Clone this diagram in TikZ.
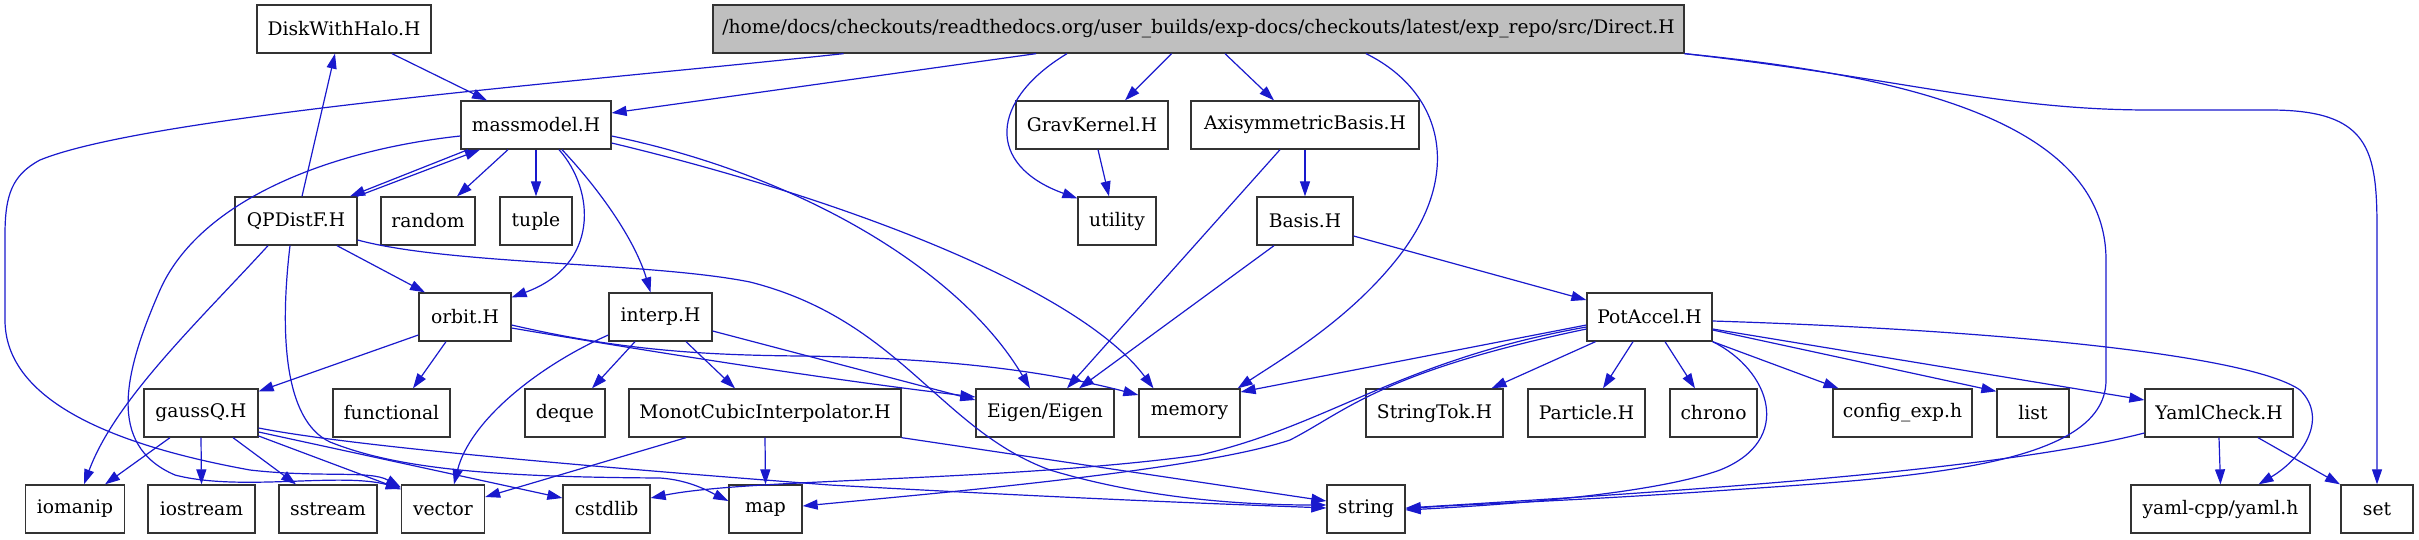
\documentclass[tikz,border=0pt]{standalone}
\usepackage{fontspec}
\setmainfont{DejaVu Serif}
\usetikzlibrary{arrows.meta}
\definecolor{edgeblue}{RGB}{25,25,205}
\definecolor{rootgray}{RGB}{191,191,191}
\begin{document}
\begin{tikzpicture}[x=1pt,y=-1pt,
 box/.style={draw=black!80, line width=1.3pt, minimum height=48pt, inner sep=0pt, font=\fontsize{18.7}{22}\selectfont, fill=white},
 dep/.style={draw=edgeblue, line width=1.2pt, -{Triangle[length=15pt,width=10pt]}},
]
\path[use as bounding box] (0,0) rectangle (2419,539);
% row 0
\node[box, minimum width=971pt, fill=rootgray] (D) at (1198.5,29) {/home/docs/checkouts/readthedocs.org/user\_builds/exp-docs/checkouts/latest/exp\_repo/src/Direct.H};
\node[box, minimum width=174pt] (disk) at (344,29) {DiskWithHalo.H};
% row 1
\node[box, minimum width=150pt] (mm) at (536,125) {massmodel.H};
\node[box, minimum width=152pt] (grav) at (1092,125) {GravKernel.H};
\node[box, minimum width=228pt] (axis) at (1305,125) {AxisymmetricBasis.H};
% row 2
\node[box, minimum width=122pt] (qp) at (296,221) {QPDistF.H};
\node[box, minimum width=94pt] (rnd) at (428,221) {random};
\node[box, minimum width=72pt] (tup) at (536,221) {tuple};
\node[box, minimum width=78pt] (util) at (1117,221) {utility};
\node[box, minimum width=96pt] (basis) at (1305,221) {Basis.H};
% row 3
\node[box, minimum width=92pt] (orbit) at (465,317) {orbit.H};
\node[box, minimum width=103pt] (interp) at (660.5,317) {interp.H};
\node[box, minimum width=125pt] (pot) at (1649.5,317) {PotAccel.H};
% row 4
\node[box, minimum width=114pt] (gauss) at (201,413) {gaussQ.H};
\node[box, minimum width=117pt] (func) at (391.5,413) {functional};
\node[box, minimum width=80pt] (deque) at (565,413) {deque};
\node[box, minimum width=272pt] (monot) at (765,413) {MonotCubicInterpolator.H};
\node[box, minimum width=138pt] (eigen) at (1045,413) {Eigen/Eigen};
\node[box, minimum width=101pt] (mem) at (1189.5,413) {memory};
\node[box, minimum width=137pt] (stok) at (1434.5,413) {StringTok.H};
\node[box, minimum width=117pt] (part) at (1586.5,413) {Particle.H};
\node[box, minimum width=87pt] (chrono) at (1713.5,413) {chrono};
\node[box, minimum width=139pt] (cfg) at (1902.5,413) {config\_exp.h};
\node[box, minimum width=72pt] (list) at (2033,413) {list};
\node[box, minimum width=148pt] (yamlc) at (2219,413) {YamlCheck.H};
% row 5
\node[box, minimum width=99pt] (iom) at (75,509) {iomanip};
\node[box, minimum width=107pt] (iostr) at (201.5,509) {iostream};
\node[box, minimum width=98pt] (sstr) at (328,509) {sstream};
\node[box, minimum width=83pt] (vec) at (443,509) {vector};
\node[box, minimum width=87pt] (cstd) at (606.5,509) {cstdlib};
\node[box, minimum width=73pt] (map) at (765.5,509) {map};
\node[box, minimum width=78pt] (str) at (1366,509) {string};
\node[box, minimum width=179pt] (yaml) at (2220.5,509) {yaml-cpp/yaml.h};
\node[box, minimum width=72pt] (set) at (2377,509) {set};

% Direct.H
\draw[dep] ([xshift=-162.5]D.south) -- ([yshift=12]mm.east);
\draw[dep] ([xshift=-355]D.south) .. controls (600,80) and (150,115) .. (40,160) .. controls (12,175) and (5,195) .. (5,235) -- (5,320) .. controls (5,410) and (140,450) .. (250,470) .. controls (320,478) and (370,470) .. ([yshift=-3]vec.north west);
\draw[dep] ([xshift=-131.5]D.south) .. controls (990,100) and (985,165) .. ([yshift=-2]util.north west);
\draw[dep] ([xshift=-27]D.south) -- ([xshift=33]grav.north);
\draw[dep] ([xshift=26.5]D.south) -- ([xshift=-31]axis.north);
\draw[dep] ([xshift=167.5]D.south) .. controls (1440,90) and (1465,170) .. (1400,255) .. controls (1350,320) and (1280,360) .. ([xshift=-3]mem.north east);
\draw[dep] (D.south east) .. controls (1900,75) and (2106,120) .. (2106,260) -- (2106,380) .. controls (2106,470) and (1900,478) .. (1700,492) .. controls (1550,502) and (1450,505) .. (str.east);
\draw[dep] (D.south east) .. controls (1900,78) and (2000,110) .. (2150,110) -- (2270,110) .. controls (2370,110) and (2377,150) .. (2377,230) -- (set.north);
% DiskWithHalo
\draw[dep] ([xshift=48]disk.south) -- ([xshift=-49]mm.north);
% massmodel
\draw[dep] ([xshift=-68]mm.south) -- ([xshift=54]qp.north);
\draw[dep] ([xshift=-28]mm.south) -- ([xshift=29]rnd.north);
\draw[dep] (mm.south) -- (tup.north);
\draw[dep] ([xshift=23]mm.south) .. controls (595,190) and (600,265) .. ([yshift=-5]orbit.north east);
\draw[dep] ([xshift=26]mm.south) .. controls (600,190) and (635,240) .. ([xshift=-10]interp.north);
\draw[dep] ([yshift=-11]mm.east) .. controls (800,175) and (960,270) .. ([xshift=-15]eigen.north);
\draw[dep] ([yshift=-18]mm.east) .. controls (850,200) and (1080,290) .. ([xshift=-36]mem.north);
\draw[dep] ([yshift=-11]mm.west) .. controls (330,150) and (200,200) .. (160,290) .. controls (125,370) and (105,445) .. (175,475) .. controls (240,492) and (340,472) .. ([yshift=-4]vec.north west);
% QPDistF
\draw[dep] ([xshift=6]qp.north) -- ([xshift=-9]disk.south);
\draw[dep] ([xshift=61]qp.north) -- ([xshift=-56]mm.south);
\draw[dep] ([xshift=41]qp.south) -- ([xshift=-40]orbit.north);
\draw[dep] ([xshift=-28]qp.south) .. controls (200,320) and (115,400) .. ([xshift=9]iom.north);
\draw[dep] ([xshift=-6]qp.south) .. controls (280,330) and (283,420) .. (330,442) .. controls (400,470) and (500,477) .. (660,478) .. controls (690,480) and (710,492) .. ([yshift=8]map.west);
\draw[dep] ([yshift=-19]qp.east) .. controls (450,265) and (650,262) .. (750,282) .. controls (900,320) and (940,430) .. (1050,470) .. controls (1150,500) and (1250,505) .. ([yshift=4]str.west);
% orbit
\draw[dep] ([yshift=-18]orbit.west) -- ([yshift=-3]gauss.north east);
\draw[dep] ([xshift=-19]orbit.south) -- ([xshift=21.5]func.north);
\draw[dep] ([yshift=-11]orbit.east) .. controls (700,360) and (850,382) .. ([yshift=16]eigen.west);
\draw[dep] ([yshift=-8]orbit.east) .. controls (620,350) and (700,355) .. (800,356) .. controls (950,358) and (1050,372) .. ([yshift=18]mem.west);
% interp
\draw[dep] ([yshift=-14]interp.east) -- ([yshift=13]eigen.west);
\draw[dep] ([yshift=-18]interp.west) .. controls (540,365) and (470,420) .. ([xshift=11]vec.north);
\draw[dep] ([xshift=-25.5]interp.south) -- ([xshift=27]deque.north);
\draw[dep] ([xshift=25.5]interp.south) -- ([xshift=-30]monot.north);
% gaussQ
\draw[dep] ([xshift=-31]gauss.south) -- ([xshift=30]iom.north);
\draw[dep] (gauss.south) -- (iostr.north);
\draw[dep] ([xshift=32]gauss.south) -- ([xshift=-32]sstr.north);
\draw[dep] ([yshift=-23]gauss.east) -- ([yshift=-5]vec.north west);
\draw[dep] ([yshift=-19]gauss.east) -- ([yshift=11]cstd.west);
\draw[dep] ([yshift=-15]gauss.east) .. controls (330,442) and (500,460) .. (830,485) .. controls (1100,500) and (1250,505) .. ([yshift=1]str.west);
% MonotCubicInterpolator
\draw[dep] ([xshift=-79]monot.south) -- ([yshift=12]vec.east);
\draw[dep] (monot.south) -- (map.north);
\draw[dep] (monot.south east) -- ([yshift=8]str.west);
% AxisymmetricBasis, GravKernel, Basis
\draw[dep] (axis.south) -- (basis.north);
\draw[dep] ([xshift=-25]axis.south) -- ([xshift=22]eigen.north);
\draw[dep] ([xshift=6]grav.south) -- ([xshift=-8]util.north);
\draw[dep] ([xshift=-31]basis.south) -- ([xshift=34]eigen.north);
\draw[dep] ([yshift=-15]basis.east) -- ([yshift=17]pot.west);
% PotAccel
\draw[dep] ([yshift=-8]pot.west) -- ([yshift=21]mem.east);
\draw[dep] ([yshift=-10]pot.west) .. controls (1400,360) and (1330,425) .. (1200,455) .. controls (1000,482) and (750,478) .. ([yshift=11]cstd.east);
\draw[dep] ([yshift=-12]pot.west) .. controls (1380,372) and (1345,412) .. (1290,440) .. controls (1200,470) and (950,492) .. ([yshift=3]map.east);
\draw[dep] ([xshift=-54]pot.south) -- ([xshift=57]stok.north);
\draw[dep] ([xshift=-16.5]pot.south) -- ([xshift=16.5]part.north);
\draw[dep] ([xshift=15.5]pot.south) -- ([xshift=-18.5]chrono.north);
\draw[dep] (pot.south east) -- ([xshift=-64]cfg.north);
\draw[dep] ([yshift=-13]pot.east) -- ([yshift=-3]list.north west);
\draw[dep] ([yshift=-12]pot.east) -- ([yshift=13]yamlc.west);
\draw[dep] ([yshift=-4]pot.east) .. controls (2000,330) and (2250,355) .. (2300,390) .. controls (2330,420) and (2300,460) .. ([xshift=38]yaml.north);
\draw[dep] (pot.south east) .. controls (1770,370) and (1795,440) .. (1720,470) .. controls (1650,495) and (1500,505) .. ([yshift=-1]str.east);
% YamlCheck
\draw[dep] ([yshift=-20]yamlc.west) .. controls (2000,470) and (1700,490) .. ([yshift=1]str.east);
\draw[dep] (yamlc.south) -- (yaml.north);
\draw[dep] ([xshift=39]yamlc.south) -- ([xshift=-37]set.north);
\end{tikzpicture}
\end{document}
